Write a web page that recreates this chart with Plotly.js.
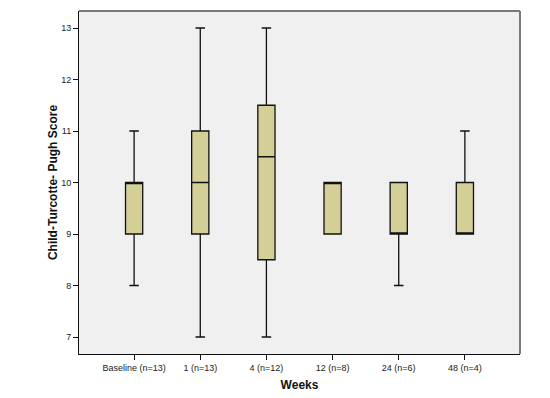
<!DOCTYPE html>
<html><head><meta charset="utf-8">
<script src="https://cdn.plot.ly/plotly-3.0.1.min.js"></script>
<style>body{margin:0;background:#fff}#chart{width:550px;height:398px}</style>
</head><body><div id="chart"></div>
<script>
const categories = ["Baseline (n=13)", "1 (n=13)", "4 (n=12)", "12 (n=8)", "24 (n=6)", "48 (n=4)"];
const minVals = [8, 7, 7, 9, 8, 9];
const q1Vals = [9, 9, 8.5, 9, 9, 9];
const medianVals = [10, 10, 10.5, 10, 9, 9];
const q3Vals = [10, 11, 11.5, 10, 10, 10];
const maxVals = [11, 13, 13, 10, 10, 11];
const yTicks = [7, 8, 9, 10, 11, 12, 13];

const trace = {
  type: 'box',
  x: categories,
  q1: q1Vals, median: medianVals, q3: q3Vals,
  lowerfence: minVals, upperfence: maxVals,
  fillcolor: '#d3cf97',
  line: {color: '#111', width: 1.3},
  width: 0.26,
  whiskerwidth: 0.55,
  boxpoints: false,
  hoverinfo: 'skip',
  showlegend: false
};

const layout = {
  width: 550, height: 398,
  margin: {l: 79, r: 30, t: 11, b: 44},
  paper_bgcolor: '#ffffff',
  plot_bgcolor: '#f0f0f0',
  font: {family: 'Liberation Sans, Arial, sans-serif', color: '#222'},
  xaxis: {
    type: 'category',
    range: [-0.833, 5.833],
    showgrid: false, zeroline: false,
    showline: true, linecolor: '#111', linewidth: 1,
    ticks: 'outside', ticklen: 5, tickcolor: '#111',
    tickfont: {size: 9, color: '#222'},
    title: {text: '<b>Weeks</b>', font: {size: 12, color: '#111'}, standoff: 8}
  },
  yaxis: {
    range: [6.67, 13.33],
    tickvals: yTicks,
    showgrid: false, zeroline: false,
    showline: true, linecolor: '#111', linewidth: 1,
    ticks: 'outside', ticklen: 5, tickcolor: '#111',
    tickfont: {size: 9, color: '#222'},
    title: {text: '<b>Child-Turcotte- Pugh Score</b>', font: {size: 12, color: '#111'}, standoff: 0}
  },
  shapes: [
    {type: 'line', xref: 'paper', yref: 'paper', x0: 0, x1: 1, y0: 1, y1: 1, line: {color: '#7a7a7a', width: 2}},
    {type: 'line', xref: 'paper', yref: 'paper', x0: 1, x1: 1, y0: 0, y1: 1, line: {color: '#7a7a7a', width: 2}}
  ]
};

Plotly.newPlot('chart', [trace], layout, {displayModeBar: false, staticPlot: true});
</script></body></html>
